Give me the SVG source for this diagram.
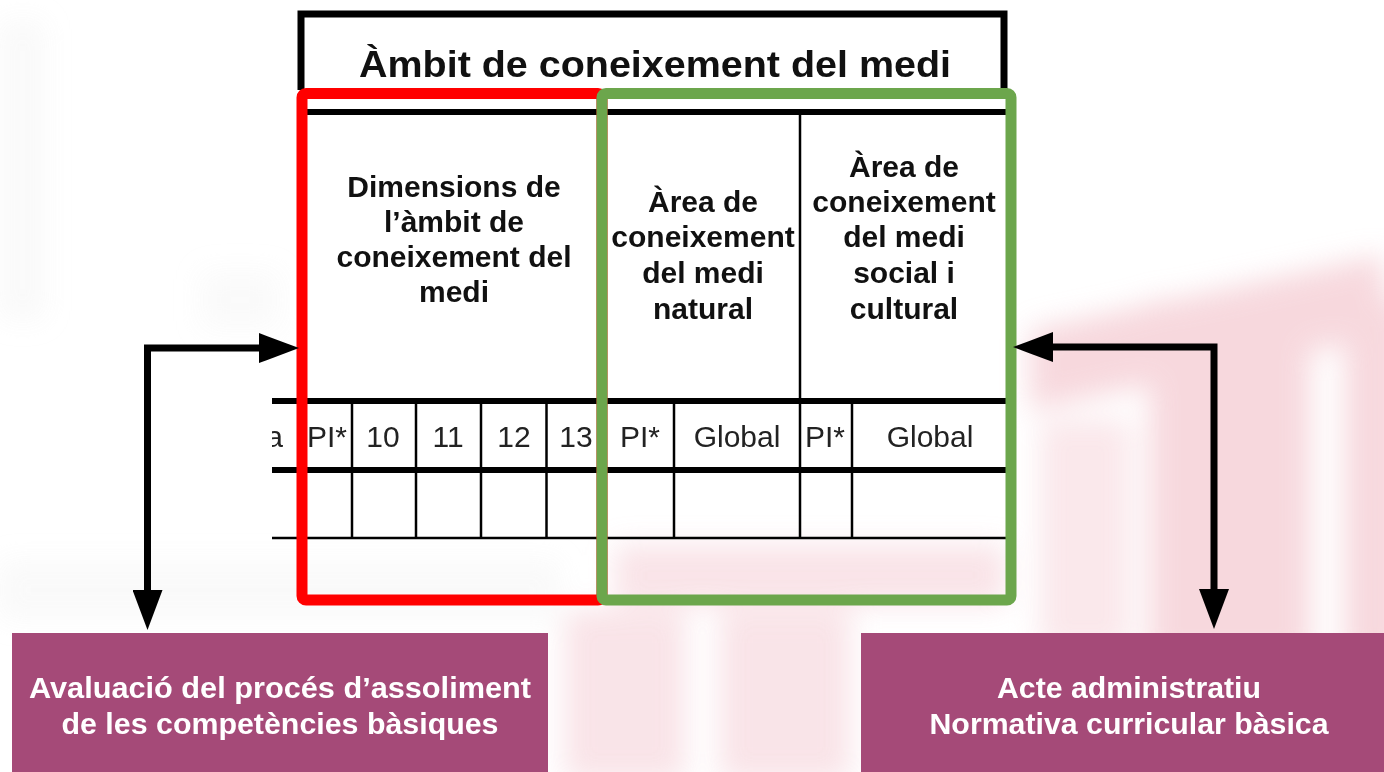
<svg xmlns="http://www.w3.org/2000/svg" width="1384" height="772" viewBox="0 0 1384 772">
  <defs>
    <style>
      .hdr { font-family: "Liberation Sans", Arial, sans-serif; font-weight: bold; font-size: 30px; fill: #111; text-anchor: middle; }
      .title { font-family: "Liberation Sans", Arial, sans-serif; font-weight: bold; font-size: 37px; fill: #111; text-anchor: middle; }
      .cell { font-family: "Liberation Sans", Arial, sans-serif; font-size: 30px; fill: #222; text-anchor: middle; }
      .boxtxt { font-family: "Liberation Sans", Arial, sans-serif; font-weight: bold; font-size: 30px; fill: #ffffff; text-anchor: middle; }
      .thick { stroke: #000; stroke-width: 6; fill: none; }
      .thin { stroke: #000; stroke-width: 2.5; fill: none; }
      .conn { stroke: #000; stroke-width: 7; fill: none; stroke-linejoin: miter; }
      .box { fill: #a54a78; }
      .wm { fill: #f5cfd5; }
      .wmg { fill: #ececec; }
    </style>
    <filter id="blur" x="-30%" y="-30%" width="160%" height="160%">
      <feGaussianBlur stdDeviation="14"/>
    </filter>
    <marker id="arrow" viewBox="0 0 40 30" refX="0" refY="15" markerWidth="40" markerHeight="30" markerUnits="userSpaceOnUse" orient="auto-start-reverse">
      <path d="M0,0 L40,15 L0,30 z" fill="#000"/>
    </marker>
    <clipPath id="tableClip">
      <rect x="272" y="0" width="800" height="772"/>
    </clipPath>
  </defs>

  <rect x="0" y="0" width="1384" height="772" fill="#ffffff"/>

  <!-- faint watermark background -->
  <g id="watermark" filter="url(#blur)" opacity="0.8">
    <polygon class="wm" points="1030,330 1384,255 1384,335 1030,410"/>
    <rect class="wm" x="1150" y="300" width="160" height="360"/>
    <rect class="wm" x="1345" y="300" width="60" height="360"/>
    <rect class="wm" x="1040" y="420" width="90" height="230" opacity="0.6"/>
    <rect class="wm" x="615" y="545" width="390" height="60" opacity="0.7"/>
    <rect class="wm" x="565" y="610" width="120" height="170" opacity="0.7"/>
    <rect class="wm" x="720" y="610" width="130" height="170" opacity="0.7"/>
    <rect class="wmg" x="0" y="20" width="45" height="300" opacity="0.35"/>
    <rect class="wmg" x="0" y="560" width="560" height="60" opacity="0.35"/>
    <rect class="wmg" x="200" y="270" width="80" height="60" opacity="0.3"/>
  </g>

  <!-- table -->
  <g id="table" clip-path="url(#tableClip)">
    <path class="conn" d="M301,90 V14 H1004 V90" style="stroke-width:7"/>
    <text class="title" x="655" y="77" textLength="592" lengthAdjust="spacingAndGlyphs">Àmbit de coneixement del medi</text>

    <line class="thick" x1="306" y1="112" x2="1006" y2="112"/>
    <line class="thin" x1="800" y1="112" x2="800" y2="538"/>
    <line class="thick" x1="272" y1="401" x2="1006" y2="401"/>
    <line class="thick" x1="272" y1="470" x2="1006" y2="470"/>
    <line class="thin" x1="272" y1="538" x2="1006" y2="538"/>

    <g id="separators">
      <line class="thin" x1="302" y1="401" x2="302" y2="538"/>
      <line class="thin" x1="352" y1="401" x2="352" y2="538"/>
      <line class="thin" x1="416" y1="401" x2="416" y2="538"/>
      <line class="thin" x1="481" y1="401" x2="481" y2="538"/>
      <line class="thin" x1="546.5" y1="401" x2="546.5" y2="538"/>
      <line class="thin" x1="604" y1="401" x2="604" y2="538"/>
      <line class="thin" x1="674" y1="401" x2="674" y2="538"/>
      <line class="thin" x1="852" y1="401" x2="852" y2="538"/>
    </g>

    <g id="hdr-dimensions">
      <text class="hdr" x="454" y="197">Dimensions de</text>
      <text class="hdr" x="454" y="232">l’àmbit de</text>
      <text class="hdr" x="454" y="267">coneixement del</text>
      <text class="hdr" x="454" y="302">medi</text>
    </g>
    <g id="hdr-natural">
      <text class="hdr" x="703" y="212">Àrea de</text>
      <text class="hdr" x="703" y="247">coneixement</text>
      <text class="hdr" x="703" y="283">del medi</text>
      <text class="hdr" x="703" y="319">natural</text>
    </g>
    <g id="hdr-social">
      <text class="hdr" x="904" y="177">Àrea de</text>
      <text class="hdr" x="904" y="212">coneixement</text>
      <text class="hdr" x="904" y="247">del medi</text>
      <text class="hdr" x="904" y="283">social i</text>
      <text class="hdr" x="904" y="319">cultural</text>
    </g>

    <g id="row-labels">
      <text class="cell" x="283" y="447" style="text-anchor:end">a</text>
      <text class="cell" x="327" y="447">PI*</text>
      <text class="cell" x="383" y="447">10</text>
      <text class="cell" x="448" y="447">11</text>
      <text class="cell" x="514" y="447">12</text>
      <text class="cell" x="576" y="447">13</text>
      <text class="cell" x="640" y="447">PI*</text>
      <text class="cell" x="737" y="447">Global</text>
      <text class="cell" x="825" y="447">PI*</text>
      <text class="cell" x="930" y="447">Global</text>
    </g>
  </g>

  <!-- highlight frames -->
  <g id="frame-red">
    <rect x="302" y="93.5" width="300" height="506.5" rx="4" fill="none" stroke="#ff0000" stroke-width="11"/>
  </g>
  <g id="frame-green">
    <rect x="602" y="93.5" width="409" height="506.5" rx="4" fill="none" stroke="#6ca64c" stroke-width="11"/>
  </g>

  <!-- connectors -->
  <g id="connectors">
    <path class="conn" d="M259,348 H147.5 V590" marker-start="url(#arrow)" marker-end="url(#arrow)"/>
    <path class="conn" d="M1053,347 H1214 V589" marker-start="url(#arrow)" marker-end="url(#arrow)"/>
  </g>

  <!-- bottom boxes -->
  <g id="box-avaluacio">
    <rect class="box" x="12" y="633" width="536" height="145"/>
    <text class="boxtxt" x="280" y="698" textLength="502" lengthAdjust="spacingAndGlyphs">Avaluació del procés d’assoliment</text>
    <text class="boxtxt" x="280" y="734" textLength="437" lengthAdjust="spacingAndGlyphs">de les competències bàsiques</text>
  </g>
  <g id="box-acte">
    <rect class="box" x="861" y="633" width="530" height="145"/>
    <text class="boxtxt" x="1129" y="698" textLength="264" lengthAdjust="spacingAndGlyphs">Acte administratiu</text>
    <text class="boxtxt" x="1129" y="734" textLength="399" lengthAdjust="spacingAndGlyphs">Normativa curricular bàsica</text>
  </g>
</svg>
